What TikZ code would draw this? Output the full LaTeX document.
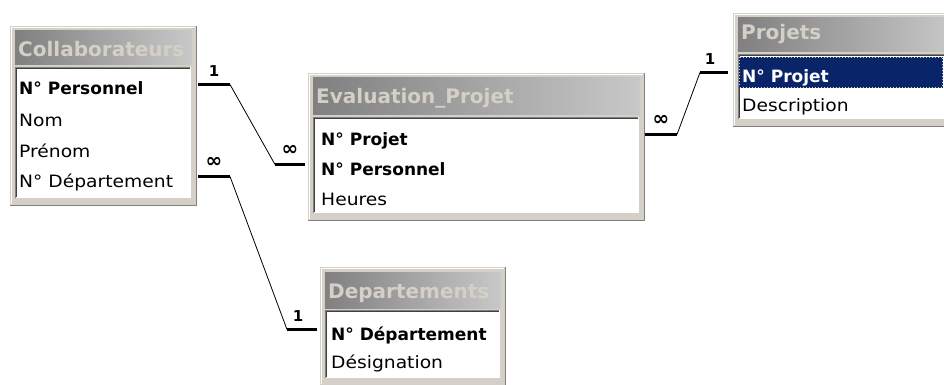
\documentclass[tikz,border=0pt]{standalone}
\usepackage{fontspec}
\setmainfont{DejaVu Sans}
\newfontfamily\dv{DejaVu Sans}
\newfontfamily\dvw[FakeStretch=1.1]{DejaVu Sans}
\usetikzlibrary{calc}
\definecolor{face}{HTML}{D4D0C8}
\definecolor{shadow}{HTML}{808080}
\definecolor{dkshadow}{HTML}{404040}
\definecolor{tbleft}{HTML}{808080}
\definecolor{tbright}{HTML}{C8C8C8}
\definecolor{selblue}{HTML}{0A246A}
\definecolor{titletext}{HTML}{D4D0C8}
\tikzset{
  rowb/.style={anchor=base west, inner sep=0pt, text height=21pt, text depth=0pt, font=\dv\bfseries\fontsize{17}{20}\selectfont},
  rowr/.style={anchor=base west, inner sep=0pt, text height=21pt, text depth=0pt, font=\dvw\fontsize{17}{20}\selectfont},
  ttl/.style={anchor=base west, inner sep=0pt, text=titletext, font=\dv\bfseries\fontsize{20}{24}\selectfont},
  stub/.style={line width=3.5pt, black},
  rel/.style={line width=0.8pt, black},
  card/.style={font=\dv\bfseries\fontsize{15}{17}\selectfont, inner sep=0pt},
  infl/.style={font=\dv\bfseries\fontsize{20}{20}\selectfont, inner sep=0pt},
}
% name, x0, y0, x1, y1, titlebar bottom, title, title baseline
\newcommand\dbwin[8]{%
  \fill[face] (#2,#3) rectangle (#4,#5);
  \draw[white, line width=1pt] (#2+1.5,#5-2) -- (#2+1.5,#3+1.5) -- (#4-2,#3+1.5);
  \draw[shadow, line width=1.5pt] (#4-0.75,#3) -- (#4-0.75,#5-0.75) -- (#2,#5-0.75);
  \shade[left color=tbleft, right color=tbright] (#2+5,#3+5) rectangle (#4-5,#6);
  \fill[white] (#2+5,#6+2) rectangle (#4-6,#5-8);
  \draw[shadow, line width=1pt] (#2+5.5,#5-8) -- (#2+5.5,#6+2.5) -- (#4-6,#6+2.5);
  \draw[dkshadow, line width=1pt] (#2+6.5,#5-9) -- (#2+6.5,#6+3.5) -- (#4-7,#6+3.5);
  \draw[white, line width=1pt] (#2+6,#5-8.5) -- (#4-6.5,#5-8.5) -- (#4-6.5,#6+2);
  \node[inner sep=0pt, outer sep=0pt, minimum width={(#4-#2)*1pt}, minimum height={(#5-#3)*1pt}, anchor=north west] (#1) at (#2,#3) {};
  \node[ttl] at (#2+8,#8) {#7};
}
\begin{document}
\begin{tikzpicture}[x=1pt,y=-1pt]
\useasboundingbox (0,0) rectangle (944,385);
\fill[white] (0,0) rectangle (944,385);
\clip (0,0) rectangle (944,385);

% windows
\dbwin{collab}{10}{26}{197}{206}{65}{Collaborateurs}{57}
\node[rowb] (cpers) at (19,95) {N° Personnel};
\node[rowr] (cnom) at (19,126) {Nom};
\node[rowr] (cpre) at (19,157) {Prénom};
\node[rowr] (cdep) at (19,187) {N° Département};

\dbwin{eval}{308}{73}{645}{221}{115}{Evaluation\_Projet}{103}
\node[rowb] (eproj) at (321,145) {N° Projet};
\node[rowb] (epers) at (321,175) {N° Personnel};
\node[rowr] (eheur) at (321,205) {Heures};

\dbwin{projets}{733}{13}{960}{127}{52}{Projets}{40}
\fill[selblue] (739,57) rectangle (943,88);
\draw[face, dotted, line width=1pt] (739.5,57.5) rectangle (942.5,87.5);
\node[rowb, text=white] (pproj) at (742,83) {N° Projet};
\node[rowr] (pdesc) at (742,112) {Description};

\dbwin{dept}{320}{267}{506}{386}{308}{Departements}{298}
\node[rowb] (ddep) at (331,340) {N° Département};
\node[rowr] (ddes) at (331,368) {Désignation};

% relationships
\draw[stub] ($(collab.east |- cpers.center)+(1,0)$) -- node[card, above=6pt]{1} ++(32,0) coordinate (r1a);
\draw[stub] ($(eval.west |- epers.center)+(-3,0)$) -- node[infl, above=7pt]{∞} ++(-30,0) coordinate (r1b);
\draw[rel] (r1a) -- (r1b);

\draw[stub] ($(collab.east |- cdep.center)+(1,0)$) -- node[infl, above=7pt]{∞} ++(32,0) coordinate (r2a);
\draw[stub] ($(dept.west |- ddep.center)+(-3,0)$) -- node[card, above=6pt, xshift=-4pt]{1} ++(-30,0) coordinate (r2b);
\draw[rel] (r2a) -- (r2b);

\draw[stub] ($(eval.east |- eproj.center)+(0,0)$) -- node[infl, above=7pt]{∞} ++(32,0) coordinate (r3a);
\draw[stub] ($(projets.west |- pproj.center)+(-5,0)$) -- node[card, above=6pt, xshift=-4pt]{1} ++(-28,0) coordinate (r3b);
\draw[rel] (r3a) -- (r3b);
\end{tikzpicture}
\end{document}
